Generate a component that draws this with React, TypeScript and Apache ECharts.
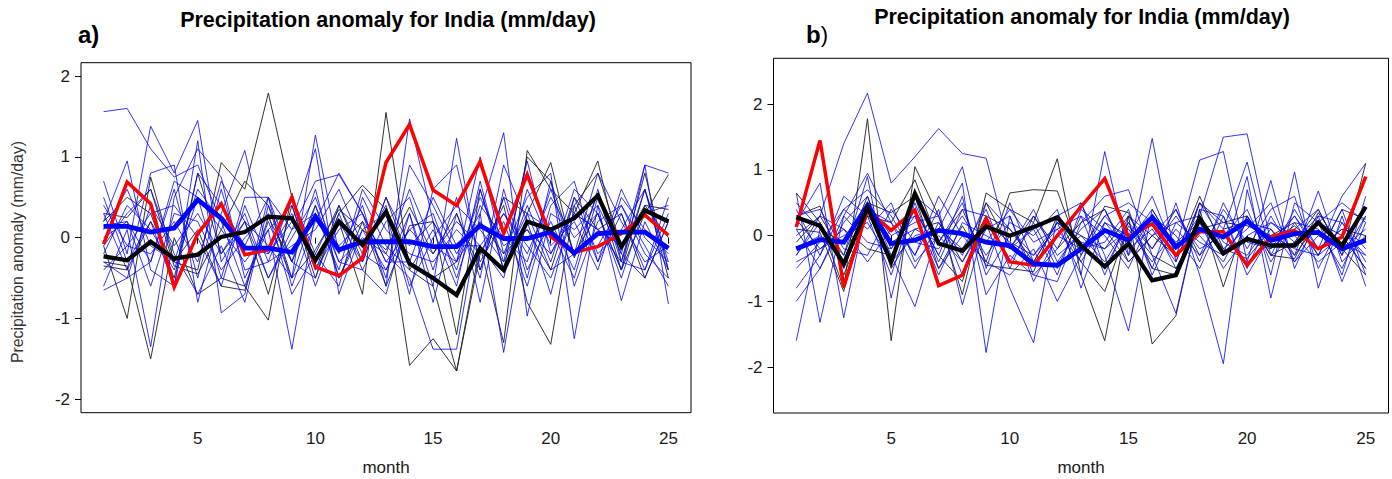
import React, { useEffect, useRef } from "react";
import * as echarts from "echarts";

// ---------- data ----------
const months = [1,2,3,4,5,6,7,8,9,10,11,12,13,14,15,16,17,18,19,20,21,22,23,24,25];
const xTicks = [5, 10, 15, 20, 25];
const yTicks = [-2, -1, 0, 1, 2];
const titleText = "Precipitation anomaly for India (mm/day)";

// Panel a) thick lines
const aRed = [-0.08,0.69,0.42,-0.61,0.05,0.42,-0.21,-0.15,0.5,-0.36,-0.47,-0.25,0.93,1.4,0.59,0.4,0.94,0.05,0.78,0.01,-0.18,-0.11,0.05,0.28,0.03];
const aBlackMean = [-0.23,-0.28,-0.05,-0.26,-0.21,0.01,0.07,0.26,0.24,-0.28,0.2,-0.09,0.32,-0.32,-0.5,-0.71,-0.13,-0.4,0.2,0.1,0.24,0.52,-0.11,0.34,0.2];
const aBlueMean = [0.14,0.14,0.07,0.12,0.47,0.24,-0.13,-0.13,-0.18,0.26,-0.15,-0.05,-0.05,-0.05,-0.11,-0.11,0.15,-0.01,-0.01,0.07,-0.19,0.05,0.07,0.07,-0.13];

// Panel a) thin black members
const aK1 = [-0.1,-1.0,0.75,-0.3,-0.4,0.93,0.6,1.79,0.5,-0.3,0.2,-0.7,1.55,-0.4,-0.6,-1.65,-0.1,-1.3,1.08,0.6,0.3,0.95,-0.3,0.8,-0.4];
const aK2 = [-0.3,-0.35,-1.5,0.0,-0.7,-0.5,-0.6,-1.02,0.55,-0.4,0.3,0.65,0.35,-1.58,-1.25,-1.65,-0.2,0.4,-0.8,-1.32,0.4,0.8,-0.1,0.4,0.35];
const aK3 = [0.3,0.25,0.6,-0.35,-0.45,0.1,0.7,0.4,-0.5,-0.15,0.35,0.1,-0.15,0.38,-0.2,0.3,-0.4,0.5,0.3,0.93,-0.25,0.55,-0.4,0.3,0.78];
const aK4 = [-0.35,-0.4,0.2,-0.3,0.1,-0.6,-0.65,0.25,-0.3,0.4,-0.5,0.2,-0.6,0.15,0.2,-1.2,0.6,-0.4,1.0,0.7,-0.2,0.3,-0.4,0.6,-0.5];
const aK5 = [0.2,0.5,0.3,-0.5,0.8,-0.2,0.2,-0.7,0.4,-0.5,0.4,-0.3,0.5,-0.3,-0.5,-0.3,0.2,-0.2,0.1,-0.4,0.5,0.1,0.3,-0.5,0.2];

// Panel a) thin blue members
const aB1 = [1.56,1.6,1.1,0.75,0.9,0.2,-0.1,0.5,0.1,0.7,0.78,0.3,-0.3,0.1,-0.2,0.2,-0.1,0.3,-0.2,0.5,0.0,0.3,-0.4,0.9,0.8];
const aB2 = [0.7,-0.2,1.38,0.8,1.45,-0.3,0.2,-0.1,-0.5,1.27,-0.2,0.4,-0.6,1.47,0.2,-0.4,0.6,-0.3,0.95,-0.2,0.3,0.1,-0.3,0.6,-0.4];
const aB3 = [0.2,0.95,-0.4,-0.6,1.2,-0.93,-0.7,0.5,-0.3,0.6,-0.5,0.1,-0.4,0.3,-0.6,1.23,-0.4,0.5,-0.5,0.7,-0.6,0.2,0.4,-0.2,-0.5];
const aB4 = [-0.6,0.1,-1.35,0.5,1.1,0.75,-0.5,0.1,-1.38,0.3,-0.1,0.2,-0.2,-0.5,-1.38,-1.38,0.3,-1.42,0.3,-0.4,-0.2,0.8,0.2,-0.3,-0.1];
const aB5 = [0.3,-0.4,0.8,0.9,-0.8,0.3,1.08,-0.2,0.3,-0.6,0.2,-0.3,0.5,-0.1,0.2,-0.3,1.0,-0.2,0.5,0.8,-1.25,0.4,-0.2,0.9,-0.82];
const aB6 = [-0.65,-0.5,-0.3,0.7,0.5,-0.5,0.5,0.5,-0.6,0.2,0.8,0.3,-0.5,0.9,0.4,-0.2,0.3,1.3,-0.97,0.3,0.1,0.4,-0.78,0.2,-0.4];
const aB7 = [0.5,-0.3,0.2,-0.6,0.8,0.4,-0.1,-0.2,0.2,1.1,-0.7,0.1,0.3,-0.7,0.6,0.9,-0.3,0.2,-0.6,0.4,0.7,-0.3,0.3,-0.4,0.3];
const aB8 = [-0.1,0.3,0.6,-0.2,-0.7,-0.1,-0.8,0.4,-0.3,-0.5,0.3,-0.4,-0.7,0.3,-0.8,0.3,-0.5,0.9,0.2,-0.7,0.5,-0.2,0.1,0.6,-0.3];
const aB9 = [0.15,0.2,-0.3,0.6,-0.5,0.6,-0.4,-0.3,0.5,-0.2,-0.6,0.5,-0.1,-0.4,0.1,-0.6,0.7,-0.4,0.4,-0.3,0.6,0.3,-0.5,0.4,0.0];
const aB10 = [-0.3,-0.5,0.4,-0.1,0.3,-0.2,0.3,-0.5,0.0,0.5,-0.3,-0.4,0.2,0.5,-0.4,0.5,-0.8,0.6,-0.4,0.2,-0.4,0.6,-0.3,-0.4,0.5];
const aB11 = [0.0,0.2,-0.6,0.3,0.2,-0.4,0.0,0.3,-0.7,-0.2,0.4,-0.2,-0.4,0.1,0.3,-0.5,0.4,0.0,-0.3,0.6,-0.2,-0.1,0.4,-0.1,-0.6];
const aB12 = [-0.2,0.4,0.1,-0.4,0.5,0.1,-0.3,0.1,0.4,-0.4,0.1,0.3,-0.3,-0.3,0.5,-0.1,-0.1,-0.5,0.6,-0.1,0.2,-0.4,0.5,0.1,-0.2];
const aB13 = [0.4,-0.1,-0.2,0.2,-0.3,0.7,0.2,-0.5,0.1,0.3,-0.4,0.6,0.1,-0.2,-0.3,0.1,-0.2,0.3,-0.1,-0.5,0.3,0.1,-0.1,0.3,0.4];
const aB14 = [-0.4,-0.1,0.3,0.4,0.0,-0.6,0.4,-0.3,-0.1,0.1,0.6,-0.1,0.4,-0.6,0.0,0.4,0.1,-0.3,0.3,0.1,-0.5,0.5,-0.2,-0.5,0.2];
const aB15 = [0.1,0.6,-0.1,-0.3,0.6,0.2,-0.6,0.2,-0.5,0.4,-0.3,0.0,-0.2,0.6,-0.1,-0.3,0.5,-0.1,0.1,-0.2,0.4,-0.3,0.6,0.0,-0.3];

// Panel b) thick lines
const bRed = [0.13,1.45,-0.78,0.39,0.08,0.39,-0.76,-0.6,0.26,-0.4,-0.45,0.0,0.44,0.87,-0.02,0.18,-0.3,0.06,0.06,-0.45,-0.02,0.08,-0.2,-0.02,0.9];
const bBlackMean = [0.28,0.15,-0.43,0.43,-0.4,0.64,-0.12,-0.23,0.14,0.0,0.13,0.28,-0.15,-0.47,-0.12,-0.68,-0.6,0.26,-0.27,-0.05,-0.15,-0.15,0.2,-0.15,0.44];
const bBlueMean = [-0.2,-0.06,-0.1,0.46,-0.12,-0.07,0.08,0.03,-0.1,-0.15,-0.43,-0.45,-0.2,0.08,-0.07,0.28,-0.17,0.1,-0.02,0.22,-0.07,0.03,0.05,-0.2,-0.07];

// Panel b) thin black members
const bK1 = [0.65,0.2,-0.8,1.78,-1.6,1.05,0.3,-0.9,0.65,0.4,0.2,1.17,-0.6,-1.6,0.3,-1.65,-1.22,0.4,-0.78,0.3,-0.3,-0.1,0.4,-0.3,1.1];
const bK2 = [0.3,0.45,-0.6,0.3,0.2,0.85,-0.1,0.4,-0.4,0.65,0.7,0.68,-0.3,0.45,0.35,-0.5,-0.6,0.5,0.2,0.3,-0.3,-0.35,0.35,-0.2,-0.6];
const bK3 = [0.1,0.05,-0.85,0.5,0.35,0.6,-0.5,0.15,-0.45,-0.5,-0.55,0.3,-0.4,-0.85,0.15,-0.3,-0.5,0.1,0.2,0.15,0.0,0.2,-0.3,0.4,0.25];
const bK4 = [0.25,-0.2,0.1,-0.2,-0.3,0.4,-0.3,-0.7,0.5,-0.2,0.3,-0.2,0.2,0.4,-0.4,0.0,-0.3,0.6,-0.2,-0.35,0.1,-0.3,0.2,0.0,-0.5];
const bK5 = [-0.1,0.3,-0.3,0.6,-0.5,0.1,0.2,-0.4,0.3,0.1,-0.4,0.2,0.0,-0.2,0.3,-0.2,0.4,-0.3,0.1,0.2,-0.1,0.15,-0.2,0.1,0.0];

// Panel b) thin blue members
const bB1 = [-0.3,0.3,1.4,2.17,0.8,1.2,1.63,1.25,1.18,-0.2,0.1,0.3,-0.2,0.3,-0.1,0.4,-0.2,0.3,1.5,1.55,-0.1,0.3,-0.2,0.1,-0.3];
const bB2 = [-1.6,0.1,-0.3,0.9,-0.95,0.6,0.3,1.05,-0.5,0.5,-0.4,0.2,-0.6,1.28,-0.3,1.48,-0.4,0.5,0.1,1.12,-0.3,0.4,-0.2,0.6,1.1];
const bB3 = [-1.0,-0.5,0.2,0.6,-0.3,-1.08,0.1,0.8,-1.78,0.3,-0.6,-0.2,0.5,-0.3,-1.45,0.4,-0.2,1.15,1.28,-0.4,0.84,-0.5,0.3,-0.7,0.2];
const bB4 = [0.65,-1.32,0.3,0.95,0.2,-0.3,0.4,-1.05,0.2,-0.8,-1.63,0.3,0.5,-0.5,0.2,-0.5,0.5,-0.6,-1.95,0.7,-0.6,0.97,-0.8,0.3,-0.77];
const bB5 = [0.2,0.8,-1.25,0.5,-0.2,0.4,-0.3,0.6,-0.9,-0.3,-0.6,-0.7,0.2,0.6,0.7,-0.3,-1.18,0.4,0.3,-0.5,0.3,-0.3,0.68,-0.4,0.0];
const bB6 = [-0.5,-0.1,0.4,0.7,0.3,-0.3,0.6,0.0,-0.4,-0.6,-0.2,-1.0,-0.3,0.3,0.5,0.2,-0.5,0.2,-0.3,0.9,-0.95,0.5,0.2,-0.6,0.6];
const bB7 = [0.4,-0.3,0.6,0.3,-0.6,0.5,-0.4,0.4,0.3,-0.4,0.2,-0.5,0.3,-0.6,0.3,0.0,0.4,-0.4,0.5,-0.2,0.4,0.6,-0.5,0.2,-0.4];
const bB8 = [-0.3,0.2,-0.5,0.4,0.2,-0.5,0.2,-0.3,0.5,0.1,-0.3,0.1,-0.4,0.2,0.0,0.6,-0.3,0.0,-0.4,0.3,-0.2,0.1,0.4,-0.3,0.3];
const bB9 = [0.1,-0.5,0.3,-0.1,-0.2,0.3,-0.6,0.2,0.0,-0.2,0.4,-0.4,0.1,0.4,-0.3,0.3,0.0,-0.5,0.3,-0.6,0.0,-0.2,-0.3,0.4,-0.6];
const bB10 = [-0.2,0.0,-0.4,0.5,0.0,0.2,0.3,-0.6,0.1,0.3,-0.7,0.0,-0.2,-0.1,0.4,-0.6,0.2,0.3,-0.2,0.1,0.5,-0.4,0.0,-0.2,0.1];
const bB11 = [0.3,0.4,-0.2,-0.3,0.4,-0.1,-0.2,0.3,-0.3,0.2,0.0,0.4,-0.8,0.2,-0.2,0.1,-0.4,0.5,-0.1,-0.3,0.2,0.0,-0.4,-0.1,-0.3];
const bB12 = [-0.4,-0.2,0.0,0.2,-0.4,0.0,0.1,-0.2,0.4,-0.5,0.3,-0.3,0.0,-0.4,0.2,-0.2,0.3,-0.2,0.0,0.4,-0.4,0.2,0.1,-0.5,0.3];
const bB13 = [0.0,0.3,0.1,-0.4,0.1,0.3,-0.5,0.0,-0.1,0.4,-0.1,0.1,0.3,0.0,-0.5,0.3,-0.1,0.2,-0.5,0.0,0.2,-0.1,0.3,0.2,-0.2];
const bB14 = [-0.8,-0.3,0.4,0.1,0.5,-0.4,0.0,-0.4,0.2,-0.1,-0.3,0.2,-0.1,-0.2,0.1,-0.4,0.1,-0.3,0.4,-0.1,-0.2,0.3,-0.3,0.0,-0.5];
const bB15 = [0.5,0.1,-0.1,0.3,-0.1,0.1,-0.1,0.5,-0.6,0.0,0.1,-0.6,0.4,0.1,-0.4,0.0,0.2,-0.1,-0.3,0.2,0.1,-0.4,0.2,0.5,0.2];

const aThinBlack = [aK1, aK2, aK3, aK4, aK5];
const aThinBlue = [aB1, aB2, aB3, aB4, aB5, aB6, aB7, aB8, aB9, aB10, aB11, aB12, aB13, aB14, aB15];
const bThinBlack = [bK1, bK2, bK3, bK4, bK5];
const bThinBlue = [bB1, bB2, bB3, bB4, bB5, bB6, bB7, bB8, bB9, bB10, bB11, bB12, bB13, bB14, bB15];

// ---------- layout ----------
const FONT = "'Liberation Sans', Arial, sans-serif";
const panels = [
  { left: 81, top: 62.7, width: 610, height: 350, yMax: 2.166 },
  { left: 773.5, top: 58.3, width: 615, height: 354.7, yMax: 2.7 },
];

function toPairs(vals: number[]) {
  return months.map((m, i) => [m, vals[i]]);
}

function lineSeries(vals: number[], idx: number, color: string, width: number, z: number) {
  return {
    type: "line",
    xAxisIndex: idx,
    yAxisIndex: idx,
    data: toPairs(vals),
    symbol: "none",
    showSymbol: false,
    silent: true,
    z,
    lineStyle: { color, width, join: "miter" },
  };
}

export default function App() {
  const ref = useRef<HTMLDivElement>(null);
  useEffect(() => {
    if (!ref.current) return;
    const chart = echarts.init(ref.current, undefined, { renderer: "svg" });
    const series: any[] = [];
    const sets = [
      { thinK: aThinBlack, thinB: aThinBlue, red: aRed, km: aBlackMean, bm: aBlueMean },
      { thinK: bThinBlack, thinB: bThinBlue, red: bRed, km: bBlackMean, bm: bBlueMean },
    ];
    sets.forEach((s, idx) => {
      s.thinK.forEach((v) => series.push(lineSeries(v, idx, "rgba(30,30,30,0.9)", 1, 2)));
      s.thinB.forEach((v) => series.push(lineSeries(v, idx, "rgba(0,0,255,0.8)", 1, 2)));
      series.push(lineSeries(s.red, idx, "#ff0000", 3.5, 3));
      series.push(lineSeries(s.bm, idx, "#0000ff", 4.8, 4));
      series.push(lineSeries(s.km, idx, "#000000", 4.3, 5));
    });

    const tickLabel = { color: "#1a1a1a", fontSize: 17, fontFamily: FONT };
    chart.setOption({
      animation: false,
      backgroundColor: "#ffffff",
      grid: panels.map((p) => ({
        left: p.left, top: p.top, width: p.width, height: p.height,
        show: true, borderColor: "#000", borderWidth: 1, backgroundColor: "transparent",
        containLabel: false,
      })),
      xAxis: panels.map((p, i) => ({
        type: "value", gridIndex: i, min: 0.04, max: 25.96,
        axisLine: { show: false },
        splitLine: { show: false },
        axisTick: { show: true, customValues: xTicks, length: 6, inside: false, lineStyle: { color: "#000", width: 1 } },
        axisLabel: { ...tickLabel, customValues: xTicks, margin: 17, showMinLabel: true, showMaxLabel: true },
      })),
      yAxis: panels.map((p, i) => ({
        type: "value", gridIndex: i, min: -p.yMax, max: p.yMax,
        axisLine: { show: false },
        splitLine: { show: false },
        axisTick: { show: true, customValues: yTicks, length: 6, inside: false, lineStyle: { color: "#000", width: 1 } },
        axisLabel: { ...tickLabel, customValues: yTicks, margin: 11 },
      })),
      series,
      graphic: [
        { type: "text", x: 388, y: 20, style: { text: titleText, font: `bold 21.5px ${FONT}`, fill: "#000", align: "center", verticalAlign: "middle" } },
        { type: "text", x: 1082, y: 17, style: { text: titleText, font: `bold 21.5px ${FONT}`, fill: "#000", align: "center", verticalAlign: "middle" } },
        { type: "text", x: 78, y: 34, style: { text: "a)", font: `bold 24px ${FONT}`, fill: "#000", align: "left", verticalAlign: "middle" } },
        { type: "text", x: 806, y: 34, style: { text: "{b|b}{p|)}", align: "left", verticalAlign: "middle", rich: { b: { font: `bold 24px ${FONT}`, fill: "#000" }, p: { font: `22px ${FONT}`, fill: "#000" } } } },
        { type: "text", x: 17, y: 252, rotation: Math.PI / 2, style: { text: "Precipitation anomaly (mm/day)", font: `15.8px ${FONT}`, fill: "#333", align: "center", verticalAlign: "middle" } },
        { type: "text", x: 386, y: 467, style: { text: "month", font: `17px ${FONT}`, fill: "#1a1a1a", align: "center", verticalAlign: "middle" } },
        { type: "text", x: 1081, y: 467, style: { text: "month", font: `17px ${FONT}`, fill: "#1a1a1a", align: "center", verticalAlign: "middle" } },
      ],
    });
    return () => chart.dispose();
  }, []);
  return <div ref={ref} style={{ position: "fixed", left: 0, top: 0, width: 1392, height: 479 }} />;
}
